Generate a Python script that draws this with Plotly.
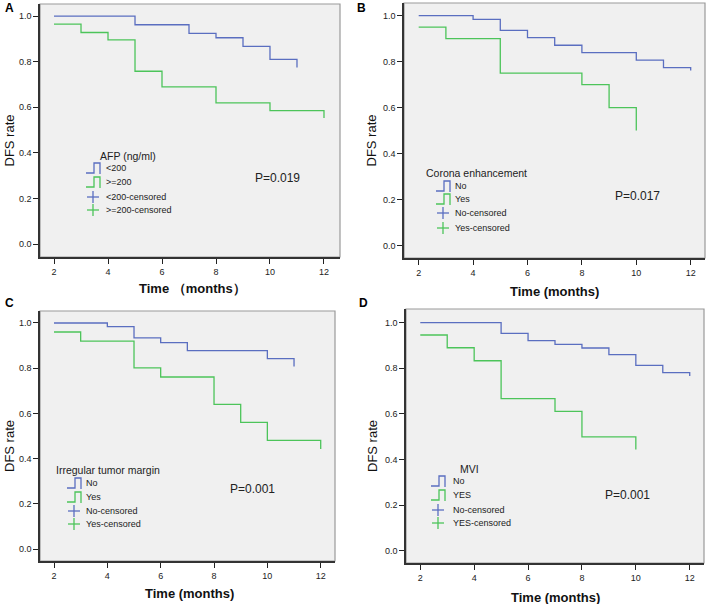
import plotly.graph_objects as go

W, H = 708, 604
BLUE = "#5a6ec0"
GREEN = "#4cc45a"
FONT = "Arial, Liberation Sans, sans-serif"

# ---- data (time in months, DFS rate) ----
a_times_low = [2, 5, 7, 8, 9, 10, 11]
a_rate_low = [1.0, 0.962, 0.924, 0.905, 0.867, 0.810, 0.774]
a_times_high = [2, 3, 4, 5, 6, 8, 10, 12]
a_rate_high = [0.965, 0.928, 0.896, 0.758, 0.689, 0.619, 0.585, 0.553]

b_times_no = [2, 4, 5, 6, 7, 8, 10, 11, 12]
b_rate_no = [1.0, 0.984, 0.936, 0.904, 0.871, 0.839, 0.806, 0.774, 0.761]
b_times_yes = [2, 3, 5, 8, 9, 10]
b_rate_yes = [0.95, 0.90, 0.75, 0.70, 0.60, 0.50]

c_times_no = [2, 4, 5, 6, 7, 10, 11]
c_rate_no = [1.0, 0.984, 0.934, 0.913, 0.878, 0.842, 0.808]
c_times_yes = [2, 3, 5, 6, 8, 9, 10, 12]
c_rate_yes = [0.960, 0.920, 0.801, 0.761, 0.640, 0.560, 0.481, 0.442]

d_times_no = [2, 5, 6, 7, 8, 9, 10, 11, 12]
d_rate_no = [1.0, 0.953, 0.921, 0.905, 0.889, 0.860, 0.813, 0.781, 0.766]
d_times_yes = [2, 3, 4, 5, 7, 8, 10]
d_rate_yes = [0.946, 0.890, 0.833, 0.667, 0.611, 0.499, 0.444]

x_ticks = [2, 4, 6, 8, 10, 12]
y_ticks = [0.0, 0.2, 0.4, 0.6, 0.8, 1.0]
y_tick_text = ["0.0", "0.2", "0.4", "0.6", "0.8", "1.0"]

panels = [
    dict(letter="A", box=(40, 4, 340, 257), xr=[1.481, 12.593], yr=[-0.057, 1.053],
         series=[(a_times_low, a_rate_low, BLUE), (a_times_high, a_rate_high, GREEN)],
         xtitle="Time （months）", xtitle_y=289, ytitle_x=9,
         leg_title="AFP (ng/ml)", leg_title_xy=(98, 156),
         leg_labels=["<200", ">=200", "<200-censored", ">=200-censored"],
         icon_x=86, text_x=104, rows=[168, 182, 197, 210],
         p="P=0.019", p_xy=(253, 178), letter_xy=(3, 8)),
    dict(letter="B", box=(404, 3, 705, 258), xr=[1.460, 12.526], yr=[-0.055, 1.055],
         series=[(b_times_no, b_rate_no, BLUE), (b_times_yes, b_rate_yes, GREEN)],
         xtitle="Time (months)", xtitle_y=291, ytitle_x=371,
         leg_title="Corona enhancement", leg_title_xy=(424, 173),
         leg_labels=["No", "Yes", "No-censored", "Yes-censored"],
         icon_x=436, text_x=453, rows=[186, 199, 213, 228],
         p="P=0.017", p_xy=(613, 196), letter_xy=(355, 8)),
    dict(letter="C", box=(40, 311, 335, 561), xr=[1.475, 12.536], yr=[-0.053, 1.053],
         series=[(c_times_no, c_rate_no, BLUE), (c_times_yes, c_rate_yes, GREEN)],
         xtitle="Time (months)", xtitle_y=593, ytitle_x=9,
         leg_title="Irregular tumor margin", leg_title_xy=(54, 470),
         leg_labels=["No", "Yes", "No-censored", "Yes-censored"],
         icon_x=67, text_x=84, rows=[483, 497, 511, 524],
         p="P=0.001", p_xy=(228, 489), letter_xy=(3, 303)),
    dict(letter="D", box=(406, 309, 704, 563), xr=[1.470, 12.530], yr=[-0.054, 1.060],
         series=[(d_times_no, d_rate_no, BLUE), (d_times_yes, d_rate_yes, GREEN)],
         xtitle="Time (months)", xtitle_y=597, ytitle_x=372,
         leg_title="MVI", leg_title_xy=(458, 469),
         leg_labels=["No", "YES", "No-censored", "YES-censored"],
         icon_x=431, text_x=451, rows=[481, 495, 510, 523],
         p="P=0.001", p_xy=(603, 495), letter_xy=(357, 303)),
]


def px(x):
    return x / W


def py(y):
    return 1 - y / H


fig = go.Figure()
shapes = []
annotations = []

for i, p in enumerate(panels, start=1):
    xa = "x" if i == 1 else f"x{i}"
    ya = "y" if i == 1 else f"y{i}"
    x0, y0, x1, y1 = p["box"]
    for t, r, c in p["series"]:
        fig.add_trace(go.Scatter(x=t, y=r, mode="lines", line=dict(color=c, width=1.3, shape="hv"),
                                 xaxis=xa, yaxis=ya, showlegend=False, hoverinfo="skip"))
    axis_common = dict(showgrid=False, zeroline=False, ticks="outside", ticklen=5, tickwidth=1,
                       tickcolor="#222", showline=True, linecolor="#333", linewidth=1.5,
                       tickfont=dict(family=FONT, size=9, color="#222"))
    fig.layout[("xaxis" if i == 1 else f"xaxis{i}")] = dict(
        domain=[px(x0), px(x1)], range=p["xr"], anchor=ya, tickvals=x_ticks, **axis_common)
    fig.layout[("yaxis" if i == 1 else f"yaxis{i}")] = dict(
        domain=[py(y1), py(y0)], range=p["yr"], anchor=xa, tickvals=y_ticks,
        ticktext=y_tick_text, **axis_common)
    # plot background box
    shapes.append(dict(type="rect", xref="paper", yref="paper", x0=px(x0), x1=px(x1),
                       y0=py(y1), y1=py(y0), fillcolor="#f0f0f0",
                       line=dict(color="#9a9a9a", width=1.2), layer="below"))
    # axis titles
    annotations.append(dict(text=f"<b>{p['xtitle']}</b>", xref="paper", yref="paper",
                            x=px((x0 + x1) / 2 + (2 if i % 2 else 0)), y=py(p["xtitle_y"]),
                            showarrow=False, font=dict(family=FONT, size=13, color="#111"),
                            xanchor="center", yanchor="middle"))
    annotations.append(dict(text="DFS rate", xref="paper", yref="paper",
                            x=px(p["ytitle_x"]), y=py((y0 + y1) / 2 + 10), textangle=-90,
                            showarrow=False, font=dict(family=FONT, size=13, color="#111"),
                            xanchor="center", yanchor="middle"))
    # panel letter
    lx, ly = p["letter_xy"]
    annotations.append(dict(text=f"<b>{p['letter']}</b>", xref="paper", yref="paper",
                            x=px(lx), y=py(ly), showarrow=False, xanchor="left", yanchor="middle",
                            font=dict(family=FONT, size=12, color="#000")))
    # legend title
    tx, ty = p["leg_title_xy"]
    annotations.append(dict(text=p["leg_title"], xref="paper", yref="paper", x=px(tx), y=py(ty),
                            showarrow=False, xanchor="left", yanchor="middle",
                            font=dict(family=FONT, size=10.5, color="#222")))
    # legend items
    cols = [BLUE, GREEN, BLUE, GREEN]
    for k, (lab, row) in enumerate(zip(p["leg_labels"], p["rows"])):
        annotations.append(dict(text=lab, xref="paper", yref="paper", x=px(p["text_x"]), y=py(row),
                                showarrow=False, xanchor="left", yanchor="middle",
                                font=dict(family=FONT, size=9, color="#222")))
        ix = p["icon_x"]
        if k < 2:
            yb, yt = row + 5, row - 5
            path = (f"M {px(ix)} {py(yb)} L {px(ix + 8)} {py(yb)} L {px(ix + 8)} {py(yt)} "
                    f"L {px(ix + 14)} {py(yt)} L {px(ix + 14)} {py(yb + 1)}")
            shapes.append(dict(type="path", xref="paper", yref="paper", path=path,
                               line=dict(color=cols[k], width=1.3)))
        else:
            cx = ix + 7
            shapes.append(dict(type="line", xref="paper", yref="paper", x0=px(cx - 6), x1=px(cx + 6),
                               y0=py(row), y1=py(row), line=dict(color=cols[k], width=1.3)))
            shapes.append(dict(type="line", xref="paper", yref="paper", x0=px(cx), x1=px(cx),
                               y0=py(row - 6), y1=py(row + 6), line=dict(color=cols[k], width=1.3)))
    # p value
    pxx, pyy = p["p_xy"]
    annotations.append(dict(text=p["p"], xref="paper", yref="paper", x=px(pxx), y=py(pyy),
                            showarrow=False, xanchor="left", yanchor="middle",
                            font=dict(family=FONT, size=12, color="#222")))

fig.update_layout(width=W, height=H, margin=dict(l=0, r=0, t=0, b=0),
                  paper_bgcolor="white", plot_bgcolor="rgba(0,0,0,0)",
                  shapes=shapes, annotations=annotations, showlegend=False)
fig.write_html("out.html", config={"displayModeBar": False},
               post_script="document.body.style.margin='0';document.body.style.overflow='hidden';")
